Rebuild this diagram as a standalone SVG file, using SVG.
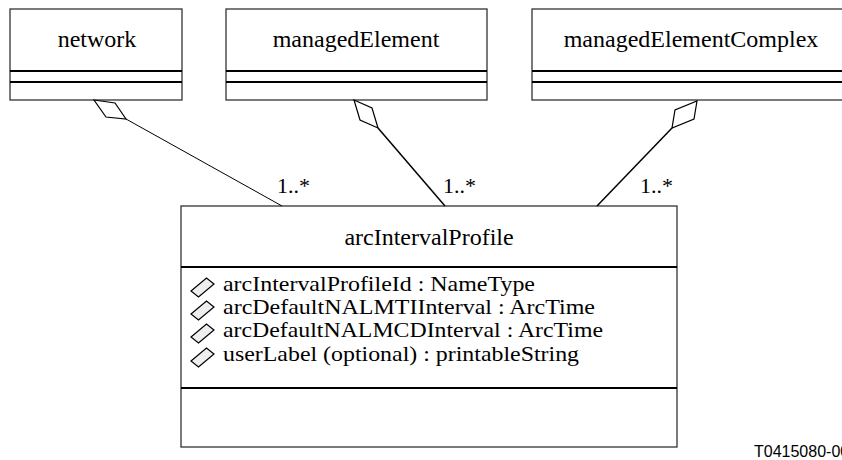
<svg xmlns="http://www.w3.org/2000/svg" xmlns:xlink="http://www.w3.org/1999/xlink" width="842" height="460" viewBox="0 0 842 460">
<style>
.box{fill:#fff;stroke:#333;stroke-width:1.3}
.div{stroke:#000;stroke-width:2.2}
.t{font-family:'Liberation Serif','Times New Roman',serif;font-size:24px;fill:#000}
.title{text-anchor:middle}
.attr{font-size:22px}
.mult{font-size:22px}
.conn{stroke:#000;fill:none}
.agg{fill:#fff;stroke:#000;stroke-width:1.2}
.ad{fill:#eee;stroke:#000;stroke-width:1.2}
.note{font-family:'Liberation Sans',Arial,sans-serif;font-size:16px;fill:#000}
</style>
<defs>
<path id="attrDia" d="M0,13 L15.5,0 L23,6 L7.5,19 Z"/>
</defs>
<rect width="842" height="460" fill="#fff"/>
<g id="network">
<rect class="box" x="10" y="9" width="172" height="91"/>
<line class="div" x1="10" y1="71" x2="182" y2="71"/>
<line class="div" x1="10" y1="82" x2="182" y2="82"/>
<text class="t title" x="97" y="47">network</text>
</g>
<g id="managedElement">
<rect class="box" x="226" y="9" width="261" height="91"/>
<line class="div" x1="226" y1="71" x2="487" y2="71"/>
<line class="div" x1="226" y1="82" x2="487" y2="82"/>
<text class="t title" x="356" y="47">managedElement</text>
</g>
<g id="managedElementComplex">
<rect class="box" x="532" y="9" width="320" height="91"/>
<line class="div" x1="532" y1="71" x2="852" y2="71"/>
<line class="div" x1="532" y1="82" x2="852" y2="82"/>
<text class="t title" x="691" y="47">managedElementComplex</text>
</g>
<g id="arcIntervalProfile">
<rect class="box" x="181" y="206" width="496" height="241"/>
<line class="div" x1="181" y1="267" x2="677" y2="267"/>
<line class="div" x1="181" y1="388" x2="677" y2="388"/>
<text class="t title" x="429" y="245">arcIntervalProfile</text>
<use xlink:href="#attrDia" class="ad" x="191" y="278"/>
<use xlink:href="#attrDia" class="ad" x="191" y="301"/>
<use xlink:href="#attrDia" class="ad" x="191" y="324"/>
<use xlink:href="#attrDia" class="ad" x="191" y="348"/>
<text class="t attr" x="223" y="291" textLength="312" lengthAdjust="spacingAndGlyphs">arcIntervalProfileId : NameType</text>
<text class="t attr" x="223" y="314" textLength="372" lengthAdjust="spacingAndGlyphs">arcDefaultNALMTIInterval : ArcTime</text>
<text class="t attr" x="223" y="337" textLength="380" lengthAdjust="spacingAndGlyphs">arcDefaultNALMCDInterval : ArcTime</text>
<text class="t attr" x="223" y="361" textLength="356" lengthAdjust="spacingAndGlyphs">userLabel (optional) : printableString</text>
</g>
<g id="connectors">
<line class="conn" stroke-width="1" x1="126" y1="119" x2="282" y2="206"/>
<path class="agg" d="M94,100 L115,103 L126,119 L106,117 Z"/>
<line class="conn" stroke-width="1.5" x1="378" y1="128" x2="445" y2="206"/>
<path class="agg" d="M354,100 L372,108 L378,128 L360,120 Z"/>
<line class="conn" stroke-width="1.5" x1="672" y1="128" x2="597" y2="206"/>
<path class="agg" d="M697,101 L694,119 L672,128 L675,110 Z"/>
<text class="t mult" x="277" y="193">1..*</text>
<text class="t mult" x="443" y="193">1..*</text>
<text class="t mult" x="640" y="193">1..*</text>
</g>
<text class="note" x="754" y="457">T0415080-00</text>
</svg>
